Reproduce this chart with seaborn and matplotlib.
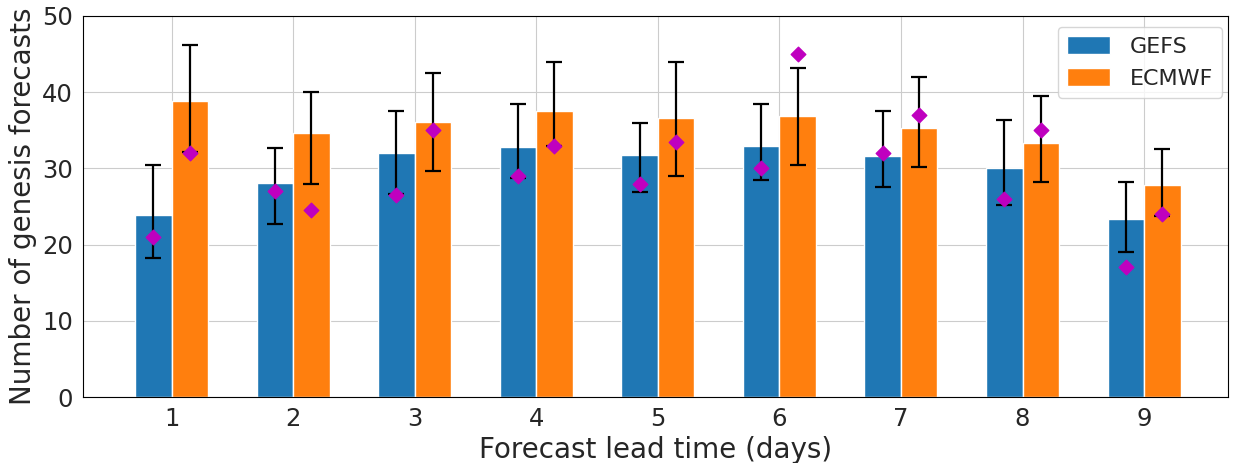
import numpy as np
import pandas as pd
import matplotlib
matplotlib.use("Agg")
import matplotlib.pyplot as plt
import seaborn as sns

sns.set_style("whitegrid")

# ----------------------------------------
# Dados
# ----------------------------------------
lead_days = ["1", "2", "3", "4", "5", "6", "7", "8", "9"]
models = ["GEFS", "ECMWF"]

gefs_mean = [23.9, 28.1, 32.0, 32.85, 31.7, 32.9, 31.6, 30.0, 23.4]
gefs_low = [18.2, 22.7, 26.6, 28.7, 26.95, 28.5, 27.5, 25.25, 19.0]
gefs_high = [30.4, 32.7, 37.5, 38.45, 35.9, 38.45, 37.5, 36.3, 28.2]
gefs_obs = [21.0, 27.0, 26.5, 29.0, 28.0, 30.0, 32.0, 26.0, 17.0]

ecmwf_mean = [38.9, 34.7, 36.1, 37.5, 36.6, 36.9, 35.3, 33.3, 27.8]
ecmwf_low = [32.1, 28.0, 29.7, 32.9, 29.0, 30.5, 30.2, 28.2, 23.8]
ecmwf_high = [46.2, 40.0, 42.5, 44.0, 44.0, 43.2, 42.0, 39.5, 32.5]
ecmwf_obs = [32.0, 24.5, 35.0, 33.0, 33.5, 45.0, 37.0, 35.0, 24.0]

df = pd.DataFrame({
    "lead": lead_days * 2,
    "model": ["GEFS"] * 9 + ["ECMWF"] * 9,
    "count": gefs_mean + ecmwf_mean,
})

fig = plt.figure(figsize=(12.36, 4.63), dpi=100)
ax = fig.add_axes([0.067, 0.1425, 0.9265, 0.823])

sns.barplot(data=df, x="lead", y="count", hue="model", order=lead_days,
            hue_order=models, palette=["#1f77b4", "#ff7f0e"], saturation=1,
            width=0.6, errorbar=None, edgecolor="white", linewidth=1, ax=ax)

# Barras de erro + diamantes
series = [
    (gefs_mean, gefs_low, gefs_high, gefs_obs, -0.15),
    (ecmwf_mean, ecmwf_low, ecmwf_high, ecmwf_obs, 0.15),
]
pos = np.arange(len(lead_days))
for mean, low, high, obs, off in series:
    mean = np.array(mean)
    yerr = np.vstack([mean - np.array(low), np.array(high) - mean])
    ax.errorbar(pos + off, mean, yerr=yerr, fmt="none", ecolor="black",
                elinewidth=1.6, capsize=6, capthick=1.6, zorder=3)
    ax.scatter(pos + off, obs, marker="D", s=55, color="m", zorder=4)

ax.set_xlim(-0.73, 8.69)
ax.set_ylim(0, 50)
ax.set_yticks([0, 10, 20, 30, 40, 50])
ax.xaxis.grid(True)
ax.yaxis.grid(True)
ax.set_axisbelow(True)
ax.set_xlabel("Forecast lead time (days)", fontsize=20)
ax.set_ylabel("Number of genesis forecasts", fontsize=20)
ax.tick_params(labelsize=17.5)
for s in ax.spines.values():
    s.set_color("black")
ax.legend(loc="upper right", bbox_to_anchor=(0.995, 0.971), borderaxespad=0,
          fontsize=16, handlelength=1.95, handleheight=0.9,
          handletextpad=0.9, borderpad=0.4)

fig.savefig("out.png", dpi=100)
